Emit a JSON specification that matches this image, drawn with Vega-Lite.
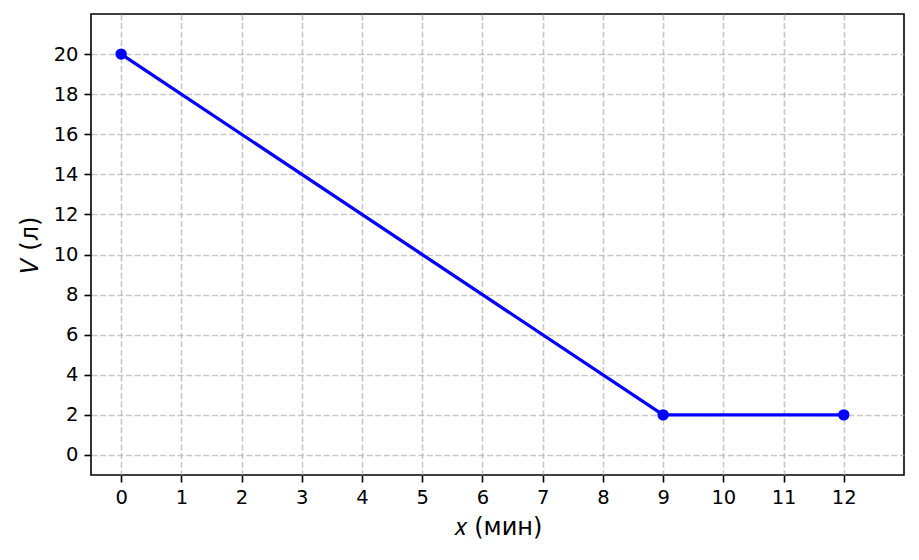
{
  "$schema": "https://vega.github.io/schema/vega-lite/v6.json",
  "width": 813,
  "height": 461,
  "padding": {"left": 91, "top": 14, "right": 15, "bottom": 85},
  "autosize": {"type": "none"},
  "background": "white",
  "config": {
    "view": {"stroke": "black", "strokeWidth": 1.6},
    "font": "DejaVu Sans",
    "axis": {
      "labelFont": "DejaVu Sans",
      "titleFont": "DejaVu Sans",
      "labelFontSize": 19.5,
      "titleFontSize": 24,
      "titleFontWeight": "normal",
      "labelColor": "black",
      "titleColor": "black",
      "tickColor": "black",
      "tickSize": 7,
      "tickWidth": 1.6,
      "domain": false,
      "gridColor": "#b0b0b0",
      "gridOpacity": 0.7,
      "gridDash": [6, 2.6],
      "gridWidth": 1.6,
      "labelPadding": 6
    }
  },
  "data": {
    "values": [
      {"x": 0, "v": 20},
      {"x": 9, "v": 2},
      {"x": 12, "v": 2}
    ]
  },
  "encoding": {
    "x": {
      "field": "x",
      "type": "quantitative",
      "scale": {"domain": [-0.5, 13], "nice": false, "zero": false},
      "axis": {"values": [0,1,2,3,4,5,6,7,8,9,10,11,12], "title": "𝑥 (мин)", "titlePadding": 9, "labelFlush": false}
    },
    "y": {
      "field": "v",
      "type": "quantitative",
      "scale": {"domain": [-1, 22], "nice": false, "zero": false},
      "axis": {"values": [0,2,4,6,8,10,12,14,16,18,20], "title": "𝑉 (л)", "titlePadding": 11, "labelFlush": false}
    }
  },
  "layer": [
    {"mark": {"type": "line", "color": "#0000ff", "strokeWidth": 3.3}},
    {"mark": {"type": "point", "filled": true, "color": "#0000ff", "opacity": 1, "size": 130}}
  ]
}
